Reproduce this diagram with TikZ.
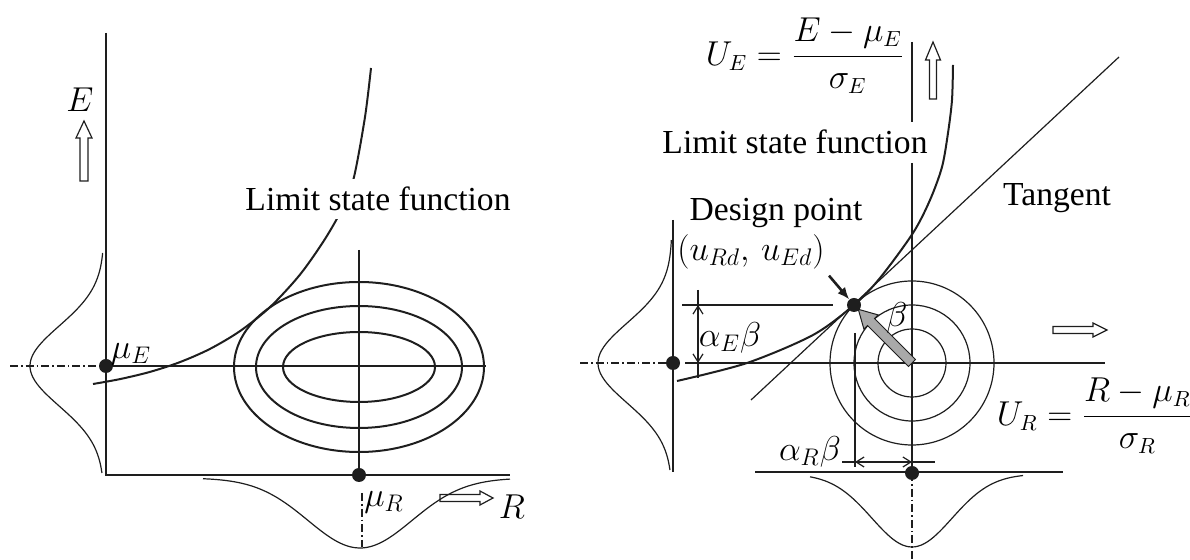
\documentclass[tikz,border=0pt]{standalone}
\usepackage{fontspec}
\setmainfont{Liberation Serif}
\usetikzlibrary{arrows.meta, calc}
\definecolor{inkDark}{HTML}{1E1E1E}
\definecolor{betaGray}{HTML}{A9A9A9}

\begin{document}
\begin{tikzpicture}[x=0.5pt, y=-0.5pt,
    axis/.style={draw=inkDark, line width=1pt},
    fine/.style={draw=inkDark, line width=0.6pt},
    chain/.style={draw=inkDark, line width=0.6pt,
                  dash pattern=on 4pt off 1.5pt on 0.8pt off 1.5pt},
    pdf/.style={draw=inkDark, line width=0.6pt},
    dot/.style={circle, fill=inkDark, inner sep=0pt, minimum size=7pt},
    hollow/.style={draw=inkDark, line width=0.6pt},
    lbl/.style={font=\fontsize{16.8}{20}\selectfont, inner sep=1pt},
    formula/.style={font=\fontsize{16}{19}\selectfont, inner sep=0pt},
    dim/.style={draw=inkDark, line width=0.6pt,
                {Straight Barb[length=4pt, width=5pt]}-{Straight Barb[length=4pt, width=5pt]}},
    pointer/.style={draw=inkDark, line width=1.3pt, -{Latex[length=6pt, width=5pt]}},
  ]
  \useasboundingbox (0,0) rectangle (1190,560);

  % ---- left panel: E and R ----
  \draw[axis] (106,33) -- (106,475) -- (510,475);
  \draw[chain] (10,366) -- (106,366);
  \draw[axis] (106,366) -- (486,366);
  \draw[axis] (359,250) -- (359,475);
  \foreach \rx/\ry in {125/85, 103/61, 76/35}
    \draw[axis] (359,367) ellipse [x radius=\rx, y radius=\ry];
  \draw[axis] plot[smooth] coordinates {(93,384) (120,379.1) (150,371.9)
    (180,362.1) (210,348.9) (240,331.1) (270,307.1) (300,274.6) (325,239)
    (343,207) (354,177) (365,117) (371,68)};
  \draw[pdf] plot[domain=253:473, samples=70, smooth]
    ({104-74*exp(-0.5*((\x-366)/40)*((\x-366)/40))}, {\x});
  \draw[pdf] plot[domain=203:510, samples=80, smooth]
    ({\x}, {478+70*exp(-0.5*((\x-360)/52)*((\x-360)/52))});
  \draw[chain] (362,493) -- (362,547);
  \node[dot] (muE) at (106,366) {};
  \node[dot] (muR) at (359,475) {};
  \node[lbl] (muElbl) at (131,354) {$\mu_E$};
  \node[lbl] (muRlbl) at (384,502) {$\mu_R$};
  \node[lbl] (Elbl) at (80,100) {$E$};
  \node[lbl] (Rlbl) at (512,507) {$R$};
  \draw[hollow] (80,181) -- (80,138) -- (76,138) -- (84,121) -- (92,138)
    -- (88,138) -- (88,181) -- cycle;
  \draw[hollow] (440,494.5) -- (480,494.5) -- (480,491) -- (493,498)
    -- (480,505) -- (480,501.5) -- (440,501.5) -- cycle;
  \node[lbl, fill=white, inner ysep=4pt] (lsfL) at (378,199) {Limit state function};

  % ---- right panel: standard normal space ----
  \coordinate (ctr) at (912,363);
  \draw[fine] (912,42) -- (912,122);
  \draw[fine] (912,163) -- (912,473);
  \draw[chain] (912,473) -- (912,560);
  \draw[chain] (580,363) -- (673,363);
  \draw[fine] (685,363) -- (1105,363);
  \draw[fine] (673,220) -- (673,472);
  \draw[fine] (755,472) -- (1063,472);
  \foreach \r in {82, 58, 34}
    \draw[fine] (ctr) circle [radius=\r];
  \draw[pdf] plot[domain=240:470, samples=70, smooth]
    ({672-74*exp(-0.5*((\x-363)/40)*((\x-363)/40))}, {\x});
  \draw[pdf] plot[domain=810:1023, samples=70, smooth]
    ({\x}, {474+73*exp(-0.5*((\x-912)/40)*((\x-912)/40))});
  \draw[fine] (751,400) -- (1119,57);
  \draw[axis] plot[smooth] coordinates {(677,381) (747,363) (813,335) (854,305)
    (880,278) (913,233) (930,200) (942,167) (948,133) (952,100) (953,65)};
  \draw[hollow] (929.5,99) -- (929.5,60) -- (925.5,60) -- (933,42) -- (940.5,60)
    -- (936.5,60) -- (936.5,99) -- cycle;
  \draw[hollow] (1053,326.5) -- (1093,326.5) -- (1093,323) -- (1107,330)
    -- (1093,337) -- (1093,333.5) -- (1053,333.5) -- cycle;

  % beta vector
  \draw[fill=betaGray, draw=inkDark, line width=0.5pt] (915.5,359.5) -- (874.5,318.5)
    -- (878.1,314.9) -- (858.3,309.3) -- (863.9,329.1) -- (867.5,325.5)
    -- (908.5,366.5) -- cycle;
  \node[lbl] (betalbl) at (897,318) {$\beta$};

  % dimensions
  \draw[fine] (682,305) -- (833,305);
  \draw[fine] (698,290) -- (698,378);
  \draw[dim] (698,305) -- (698,363);
  \node[lbl] (aE) at (730,338) {$\alpha_E\beta$};
  \draw[fine] (855,333) -- (855,467);
  \draw[fine] (842,462) -- (935,462);
  \draw[dim] (855,462) -- (912,462);
  \node[lbl] (aR) at (810,452) {$\alpha_R\beta$};

  \node[dot] (uE) at (673,363) {};
  \node[dot] (uR) at (912,473) {};
  \node[dot] (dp) at (854,305) {};

  % labels
  \node[formula] (UE) at (805,56) {$U_E = \displaystyle\frac{E-\mu_E}{\sigma_E}$};
  \node[formula] (UR) at (1095,416) {$U_R = \displaystyle\frac{R-\mu_R}{\sigma_R}$};
  \node[lbl, fill=white, inner ysep=4pt] (lsfR) at (795,142) {Limit state function};
  \node[lbl] (tang) at (1057,198) {Tangent};
  \node[lbl] (dplbl) at (776,213) {Design point};
  \node[lbl] (dpcoord) at (751,252) {$(u_{Rd},\, u_{Ed})$};
  \draw[pointer] ([xshift=1pt, yshift=-2pt]dpcoord.south east) -- (dp);
\end{tikzpicture}
\end{document}
